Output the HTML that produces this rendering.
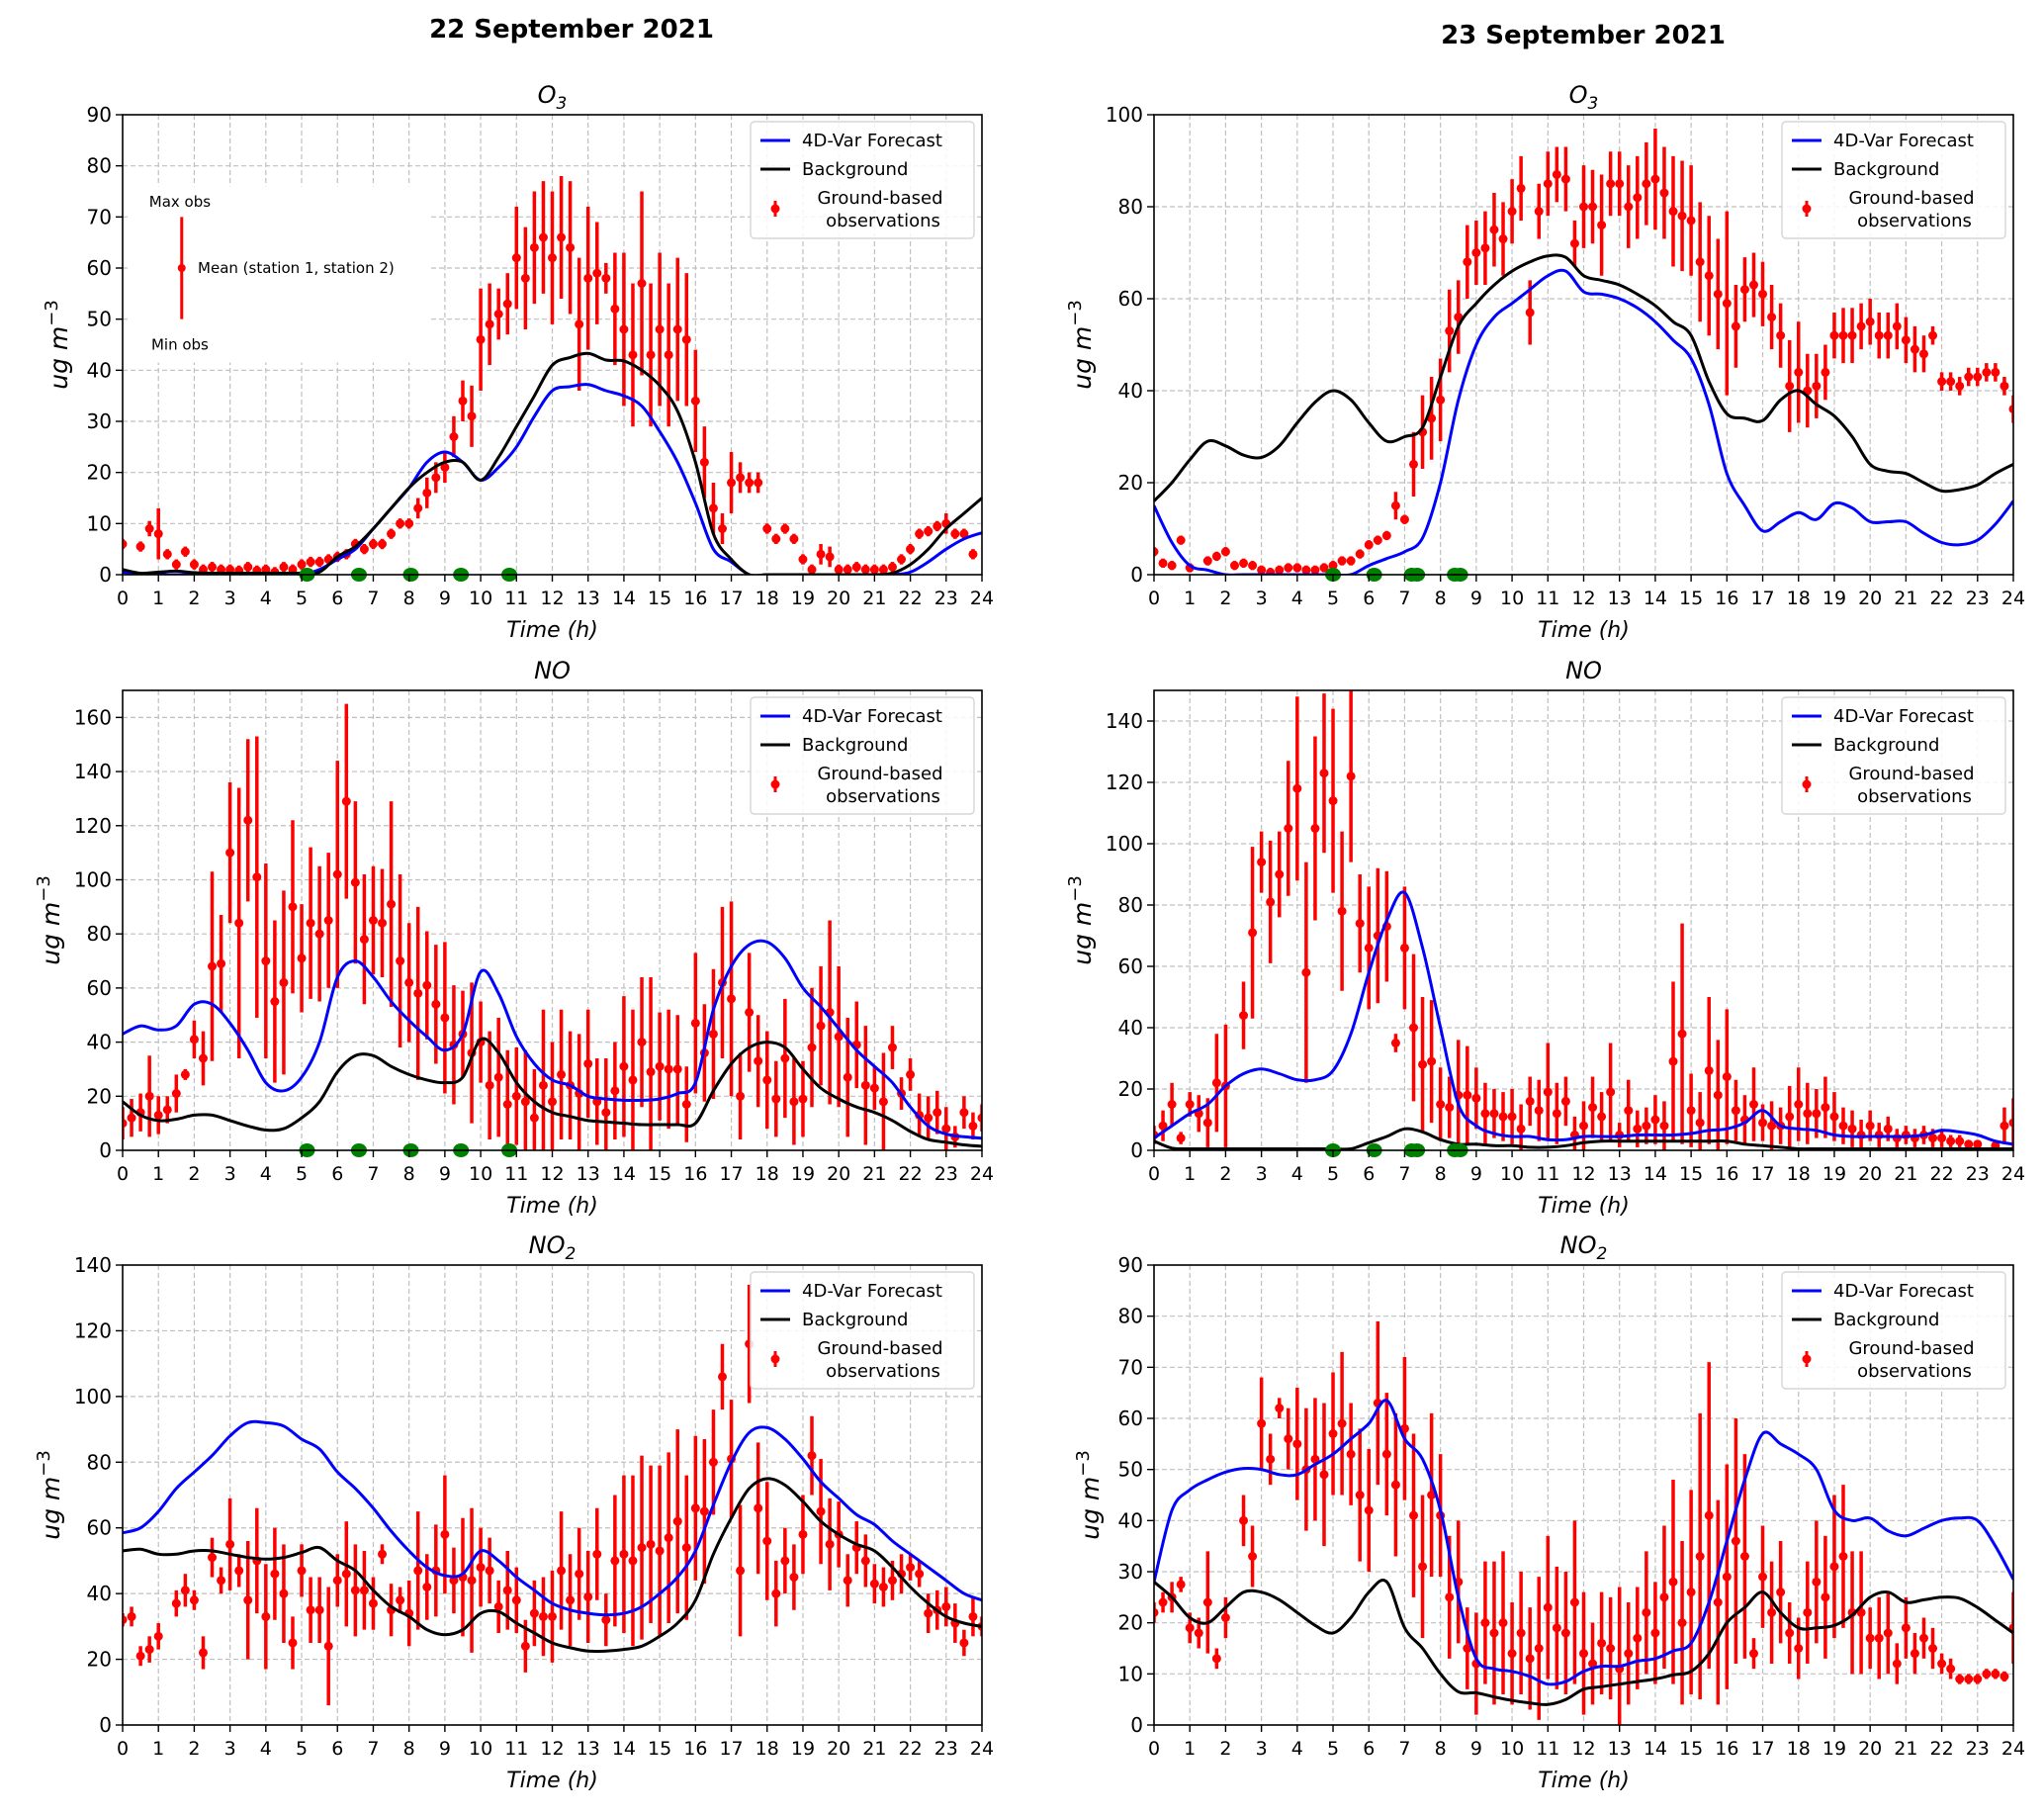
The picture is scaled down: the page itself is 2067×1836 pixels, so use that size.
<!DOCTYPE html>
<html><head><meta charset="utf-8"><title>4D-Var chart</title>
<style>
html,body{margin:0;padding:0;background:#fff;}
svg{display:block;font-family:"DejaVu Sans","Liberation Sans",sans-serif;}
</style></head>
<body>
<svg id="fig" width="2067" height="1836" viewBox="0 0 2067 1836" xmlns="http://www.w3.org/2000/svg">
<rect x="0" y="0" width="2067" height="1836" fill="#fff"/>
<text x="578" y="38" text-anchor="middle" font-size="26" font-weight="bold">22 September 2021</text>
<text x="1601" y="44" text-anchor="middle" font-size="26" font-weight="bold">23 September 2021</text>
</svg>
<script>
// ---- data: lines sampled every 0.5 h (0..24) ; observations every 0.25 h (0..24)
const hoursTicks = [0,1,2,3,4,5,6,7,8,9,10,11,12,13,14,15,16,17,18,19,20,21,22,23,24];
const legendLabels = ["4D-Var Forecast","Background","Ground-based","observations"];

const o3d1Blue = [0.5,0,0,0,0,0,0,0,0,0,0,1,3,5,9,13,17,22,24,22,18.5,21,25,31,36,36.8,37.2,36,35,33,28,22,14,5,2.5,0,0,0,0,0,0,0,0,0,0.5,2.5,5,7,8.2];
const o3d1Black = [1,0.3,0.5,0.7,0.4,0.3,0.3,0.3,0.3,0.3,0.3,0.5,3.5,5.5,9,13,17,20,22,22,18.5,23,29,35,41,42.5,43.3,42,41.8,40,37,32,22,8,3,0,0,0,0,0,0,0,0,0.3,2,5,9,12,15];
const o3d1Obs = [6,null,5.5,9,8,4,2,4.5,2,1,1.5,1,1,0.8,1.5,0.8,1,0.5,1.5,1,2,2.5,2.5,3,3.5,4,6,5,6,6,8,10,10,13,16,19,21,27,34,31,46,49,51,53,62,58,64,66,62,66,64,49,58,59,58,52,48,43,57,43,48,43,48,46,34,22,13,9,18,19,18,18,9,7,9,7,3,1,4,3.5,1,1,1.5,1,1,1,1.5,3,5,8,8.5,9.5,10,8,8,4,null];
const o3d1Err = [1,0,1,1.5,5,1,1,1,1,1,1,1,1,1,1,1,1,1,1,1,1,1,1,1,1,1,1,1,1,1,1,1,1,2,3,3,3,4,4,6,10,8,5,6,10,10,11,11,13,12,13,13,14,10,3,11,15,14,18,14,15,14,14,13,10,7,5,3,6,3,2,2,1,1,1,1,1,1,2,2,1,1,1,1,1,1,1,1,1,1,1,1,2,1,1,1,0];
const o3d1Ymax = 90;
const o3d1Yticks = [0,10,20,30,40,50,60,70,80,90];

const o3d2Blue = [15,7,2,1,0,0,0,0,0,0,0,0,2,3.5,5,8,20,38,50,56,59,62,65,66,61.5,61,60,58,55,51,47,37,22,15,9.5,11.5,13.5,12,15.5,14.5,11.5,11.5,11.5,9,7,6.5,7.5,11,16];
const o3d2Black = [16,20,25,29,28,26,25.5,28,33,37.5,40,38,33,29,30,32,43,54,59,63,66,68,69.3,69,65,64,63,61,58.5,55,52,42,35,34,33.5,38,40,37,34.5,30,24,22.5,22,20,18.2,18.5,19.5,22,24];
const o3d2Obs = [5,2.5,2,7.5,1.5,null,3,4,5,2,2.5,2,1,0.5,1,1.5,1.5,1,1,1.5,2,3,3,4.5,6.5,7.5,8.5,15,12,24,31,34,38,53,56,68,70,71,75,73,79,84,57,79,85,87,86,72,80,80,76,85,85,80,82,85,86,83,79,78,77,68,65,61,59,54,62,63,61,56,52,41,44,40,41,44,52,52,52,54,55,52,52,54,51,49,48,52,42,42,41,43,43,44,44,41,36];
const o3d2Err = [1,1,1,1,1,0,1,1,1,1,1,1,1,1,1,1,1,1,1,1,1,1,1,1,1,1,1,3,1,7,8,9,9,9,8,8,7,8,8,8,7,7,7,6,7,6,7,5,9,8,11,7,7,9,9,9,11,10,12,12,12,13,13,12,20,9,7,7,7,7,7,10,11,8,7,6,5,6,6,5,5,5,5,5,5,5,4,2,2,2,2,2,2,2,2,2,3];
const o3d2Ymax = 100;
const o3d2Yticks = [0,20,40,60,80,100];

const nod1Blue = [43,46,44.5,46,54,54,47,37,25,22,27,40,64,70,64,55,48,42,37,43,66,58,42,32,26,24,20,19,18.5,18.5,19,21,25,52,68,76,77,71,60,53,45,37,31,25,16,9,6,5,4.5];
const nod1Black = [18,13,11,11.5,13,13,11,9,7.5,8,12,18,29,35,35,31,28,26,25,27,41,36,25,18,14,12.5,11,10.5,10,9.5,9.5,9.5,10,22,32,38,40,38,30,23,19,16,14,11,7,4,3,2,1.5];
const nod1Obs = [10,12,14,20,13,15,21,28,41,34,68,69,110,84,122,101,70,55,62,90,71,84,80,85,102,129,99,78,85,84,91,70,62,58,61,54,49,39,43,36,40,24,27,17,20,18,12,24,18,28,24,21,32,18,14,22,31,26,40,29,31,30,30,17,47,36,43,62,56,20,51,33,26,19,34,18,19,38,46,51,42,27,39,24,23,18,38,21,28,13,12,14,8,5,14,9,12,10];
const nod1Err = [6,7,7,15,7,5,7,2,7,10,35,18,26,50,30,52,36,30,34,32,20,28,25,25,42,36,30,24,20,20,38,32,22,32,20,22,28,22,16,26,15,20,22,20,18,19,18,28,22,24,20,22,20,16,20,18,26,26,24,35,20,22,20,14,26,18,24,28,36,16,22,17,18,14,22,16,14,22,22,34,26,22,16,22,8,18,8,6,6,8,8,8,8,4,6,5,5,6];
const nod1Ymax = 170;
const nod1Yticks = [0,20,40,60,80,100,120,140,160];

const nod2Blue = [4,8,12,15,21,25,26.5,25,23,23,26,38,58,75,84,66,40,15,8,5.5,4.5,4.5,3.5,3.5,4.5,4.5,4.5,5,5,5,5.5,6.5,7,9,13,8,7,6.5,5,4.5,4.5,4.5,4.5,5,6.5,6,5,3,2];
const nod2Black = [3,0.7,0.5,0.5,0.5,0.5,0.5,0.5,0.5,0.5,0.5,0.5,2.5,4.5,7,6,3.5,2,2,1.5,1.5,1,1,1.5,2.5,3,3,3,3,3,3,3,3,2,1.5,1,0.5,0.5,0.5,0.5,0.5,0.5,0.5,0.5,0.5,0.5,0.5,0.5,0.5];
const nod2Obs = [5,8,15,4,15,12,9,22,21,null,44,71,94,81,90,105,118,58,105,123,114,78,122,74,66,70,73,35,66,40,28,29,15,14,18,18,17,12,12,11,11,7,16,13,19,12,16,5,8,14,11,19,5,13,7,8,10,8,29,38,13,9,26,18,24,13,10,15,9,8,8,11,15,12,12,14,11,8,7,5,8,5,7,4,5,4,5,4,4,3,3,2,2,null,1.5,8,9];
const nod2Err = [3,5,7,2,4,6,8,16,20,0,11,28,10,20,14,22,30,36,30,26,30,26,28,16,20,22,18,3,20,24,22,20,12,10,18,16,10,10,8,8,9,8,8,10,16,10,8,6,8,10,8,16,4,10,6,6,8,8,26,36,12,10,24,18,22,10,8,12,6,8,6,10,12,10,8,10,8,6,6,5,5,4,4,3,3,3,3,3,3,2,2,1,1,0,1,6,8];
const nod2Ymax = 150;
const nod2Yticks = [0,20,40,60,80,100,120,140];

const no2d1Blue = [58.5,60,65,72,77,82,88,92,92,91,87,84,77,72,66,59,53,48,45.5,46,53,50,45,41,37,35,34,33.5,34,36,40,45,53,67,80,89,90.5,87,81,74,69,64,61,56,52,48,44,40,38];
const no2d1Black = [53,53.5,52,52,53,53,52,51,50.5,51,52.5,54,50,47,41,36,33,29,27.5,29,34,34.5,31,28,25,23.5,22.5,22.5,23,24,27,31,38,52,63,72,75,73,68,62,58,55,53,48,42,37,33,31,30];
const no2d1Obs = [32,33,21,23,27,null,37,41,38,22,51,44,55,47,38,50,33,46,40,25,47,35,35,24,44,46,41,41,37,52,35,38,34,47,42,47,58,44,45,44,48,47,36,41,38,24,34,33,33,47,38,46,39,52,32,50,52,50,54,55,53,57,62,54,66,65,80,106,81,47,116,66,56,40,50,45,58,82,65,55,58,44,54,50,43,42,44,46,48,46,34,35,36,31,25,33,30];
const no2d1Err = [2,3,3,4,4,0,4,5,3,5,6,4,14,5,18,16,16,14,15,8,8,10,10,18,8,16,14,12,8,3,8,4,10,18,10,14,18,10,18,22,12,10,8,12,10,8,10,12,14,18,14,14,14,14,8,20,24,26,28,24,26,26,28,22,22,22,16,10,18,20,18,20,18,10,10,10,12,12,16,14,10,8,8,8,6,6,6,6,4,4,6,6,6,6,4,6,3];
const no2d1Ymax = 140;
const no2d1Yticks = [0,20,40,60,80,100,120,140];

const no2d2Blue = [28,42,46,48,49.5,50.2,50,49,49,51,53,56,59,63.5,56,52,42,25,13,11,10.5,9.5,8,8.5,10.5,11.5,11.5,12.5,13,14.5,16,24,36,48,57,55,53,50,42,40,40.5,38,37,38.5,40,40.5,40,35,28.5];
const no2d2Black = [28,25,21,20,23,26,26,24.5,22,19.5,18,21,26,28,19,15,10,6.5,6.3,5.5,4.8,4.3,4,5,7,7.5,8,8.5,9,9.8,10.5,14,20,23,26,22,19,19,19.5,21.5,25,26,24,24.5,25,24.8,23,20.5,18];
const no2d2Obs = [22,24,25,27.5,19,18,24,13,21,null,40,33,59,52,62,56,55,50,52,49,57,59,53,45,42,63,53,47,58,41,31,45,41,25,28,15,12,20,18,20,14,18,13,15,23,19,18,24,14,12,16,15,11,14,17,22,18,25,28,20,26,33,41,24,29,36,33,14,29,22,26,18,15,22,28,25,31,33,22,22,17,17,18,12,19,14,17,15,12,11,9,9,9,10,10,9.5,19];
const no2d2Err = [2,2,3,1.5,3,3,10,2,4,0,5,6,9,5,2,6,11,12,12,14,12,14,10,13,12,16,12,14,14,16,14,16,12,12,12,8,10,12,14,14,10,12,10,14,14,12,12,16,12,8,10,10,16,10,10,12,10,14,20,16,20,28,30,20,22,24,20,3,10,10,10,6,6,10,12,12,14,14,12,12,6,8,8,4,6,4,4,4,2,2,1,1,1,1,1,1,7];
const no2d2Ymax = 90;
const no2d2Yticks = [0,10,20,30,40,50,60,70,80,90];

const assimTimesDay1 = [5.15,6.6,8.05,9.45,10.8];
const assimTimesDay2 = [5.0,6.15,7.2,7.35,8.4,8.55];

const NS = "http://www.w3.org/2000/svg";
const svg = document.getElementById("fig");
function mk(tag, attrs, parent) {
  const e = document.createElementNS(NS, tag);
  for (const k in attrs) e.setAttribute(k, attrs[k]);
  (parent || svg).appendChild(e);
  return e;
}

const colsX = [124, 1167];
const rowsY = [116, 698, 1279];
const W = 869, H = 465;

function smoothPath(pts) {
  let d = "M" + pts[0][0].toFixed(1) + "," + pts[0][1].toFixed(1);
  for (let i = 0; i < pts.length - 1; i++) {
    const p0 = pts[Math.max(0, i - 1)], p1 = pts[i], p2 = pts[i + 1], p3 = pts[Math.min(pts.length - 1, i + 2)];
    const c1x = p1[0] + (p2[0] - p0[0]) / 6, c1y = p1[1] + (p2[1] - p0[1]) / 6;
    const c2x = p2[0] - (p3[0] - p1[0]) / 6, c2y = p2[1] - (p3[1] - p1[1]) / 6;
    d += "C" + c1x.toFixed(1) + "," + c1y.toFixed(1) + " " + c2x.toFixed(1) + "," + c2y.toFixed(1) + " " + p2[0].toFixed(1) + "," + p2[1].toFixed(1);
  }
  return d;
}

function drawPanel(name, col, row, species, sub, blue, black, obs, err, ymax, yticks, assim, annot) {
  const x0 = colsX[col], y0 = rowsY[row];
  const xs = t => x0 + t / 24 * W;
  const ys = v => y0 + H - v / ymax * H;
  const g = mk("g", {});
  
  
  const cid = "clip-" + name;
  const cp = mk("clipPath", {id: cid}, g);
  mk("rect", {x: x0, y: y0, width: W, height: H}, cp);

  const grid = mk("g", {stroke: "#b0b0b0", "stroke-width": 1.2, "stroke-dasharray": "5,3", opacity: 0.8}, g);
  
  
  hoursTicks.forEach(t => { if (t > 0 && t < 24) mk("line", {x1: xs(t), x2: xs(t), y1: y0, y2: y0 + H}, grid); });
  yticks.forEach(v => { if (v > 0 && v < ymax) mk("line", {x1: x0, x2: x0 + W, y1: ys(v), y2: ys(v)}, grid); });

  const plot = mk("g", {"clip-path": "url(#" + cid + ")"}, g);

  if (annot) {
    const wb = mk("rect", {x: xs(0.15), y: ys(76), width: xs(8.6) - xs(0.15), height: ys(41.5) - ys(76), fill: "#fff"}, plot);
    
    
    const ab = mk("line", {x1: xs(1.65), x2: xs(1.65), y1: ys(70), y2: ys(50), stroke: "#f00", "stroke-width": 3}, plot);
    
    
    const ad = mk("circle", {cx: xs(1.65), cy: ys(60), r: 4, fill: "#f00"}, plot);
    
    
    const t1 = mk("text", {x: xs(1.6), y: ys(73) + 5, "font-size": 15, "text-anchor": "middle"}, plot);
    t1.textContent = "Max obs";
    
    
    const t2 = mk("text", {x: xs(2.1), y: ys(60) + 5, "font-size": 15}, plot);
    t2.textContent = "Mean (station 1, station 2)";
    
    
    const t3 = mk("text", {x: xs(1.6), y: ys(45) + 5, "font-size": 15, "text-anchor": "middle"}, plot);
    t3.textContent = "Min obs";
    
    
  }

  const og = mk("g", {fill: "#f00", stroke: "#f00"}, plot);
  
  
  obs.forEach((v, i) => {
    if (v === null) return;
    const t = i * 0.25;
    const e = err[i] || 0;
    if (e > 0) {
      const l = mk("line", {x1: xs(t), x2: xs(t), y1: ys(v + e), y2: ys(Math.max(0, v - e)), "stroke-width": 3.5}, og);
      
      
    }
    const c = mk("circle", {cx: xs(t), cy: ys(v), r: 4.5, stroke: "none"}, og);
    
    
  });

  function line(arr, color, nm) {
    const pts = arr.map((v, i) => [xs(i * 0.5), ys(v)]);
    const p = mk("path", {d: smoothPath(pts), fill: "none", stroke: color, "stroke-width": 3, "stroke-linejoin": "round"}, plot);
    
    
  }
  line(blue, "#0000ff", name + "-forecast-line");
  line(black, "#000", name + "-background-line");

  assim.forEach(t => {
    const c = mk("ellipse", {cx: xs(t), cy: ys(0), rx: 8, ry: 7, fill: "#008000"}, g);
    
    
  });

  const fr = mk("rect", {x: x0, y: y0, width: W, height: H, fill: "none", stroke: "#000", "stroke-width": 1.6}, g);
  
  

  hoursTicks.forEach(t => {
    mk("line", {x1: xs(t), x2: xs(t), y1: y0 + H, y2: y0 + H + 7, stroke: "#000", "stroke-width": 1.4}, g);
    const tx = mk("text", {x: xs(t), y: y0 + H + 30, "font-size": 19, "text-anchor": "middle"}, g);
    tx.textContent = t;
    
    
  });
  yticks.forEach(v => {
    mk("line", {x1: x0 - 7, x2: x0, y1: ys(v), y2: ys(v), stroke: "#000", "stroke-width": 1.4}, g);
    const tx = mk("text", {x: x0 - 11, y: ys(v) + 7, "font-size": 20, "text-anchor": "end"}, g);
    tx.textContent = v;
    
    
  });

  const xl = mk("text", {x: x0 + W / 2, y: y0 + H + 63, "font-size": 22, "font-style": "italic", "text-anchor": "middle"}, g);
  xl.textContent = "Time (h)";
  
  
  const ylx = x0 - (yticks[yticks.length - 1] >= 100 ? 64 : 56), yly = y0 + H / 2;
  const yl = mk("text", {x: ylx, y: yly, "font-size": 25, "font-style": "italic", "text-anchor": "middle", transform: "rotate(-90 " + ylx + " " + yly + ")"}, g);
  
  
  yl.innerHTML = 'ug m<tspan dy="-10" font-size="18" font-style="normal">−3</tspan>';
  const tt = mk("text", {x: x0 + W / 2, y: y0 - 12, "font-size": 24, "font-style": "italic", "text-anchor": "middle"}, g);
  
  
  tt.innerHTML = species + (sub ? '<tspan dy="6" font-size="17">' + sub + '</tspan>' : '');

  const lx = x0 + W - 234, ly = y0 + 7;
  const lg = mk("g", {}, g);
  
  
  mk("rect", {x: lx, y: ly, width: 226, height: 118, rx: 4, fill: "#fff", "fill-opacity": 0.85, stroke: "#d6d6d6", "stroke-width": 1.4}, lg);
  mk("line", {x1: lx + 10, x2: lx + 40, y1: ly + 19, y2: ly + 19, stroke: "#0000ff", "stroke-width": 3}, lg);
  mk("line", {x1: lx + 10, x2: lx + 40, y1: ly + 48, y2: ly + 48, stroke: "#000", "stroke-width": 3}, lg);
  mk("line", {x1: lx + 25, x2: lx + 25, y1: ly + 80, y2: ly + 96, stroke: "#f00", "stroke-width": 3}, lg);
  mk("circle", {cx: lx + 25, cy: ly + 88, r: 4.5, fill: "#f00"}, lg);
  const pos = [[lx + 52, ly + 25, "start"], [lx + 52, ly + 54, "start"], [lx + 131, ly + 83, "middle"], [lx + 134, ly + 106, "middle"]];
  legendLabels.forEach((s, i) => {
    const t = mk("text", {x: pos[i][0], y: pos[i][1], "font-size": 18, "text-anchor": pos[i][2]}, lg);
    t.textContent = s;
    
    
  });
}

drawPanel("o3-day1", 0, 0, "O", "3", o3d1Blue, o3d1Black, o3d1Obs, o3d1Err, o3d1Ymax, o3d1Yticks, assimTimesDay1, true);
drawPanel("o3-day2", 1, 0, "O", "3", o3d2Blue, o3d2Black, o3d2Obs, o3d2Err, o3d2Ymax, o3d2Yticks, assimTimesDay2, false);
drawPanel("no-day1", 0, 1, "NO", "", nod1Blue, nod1Black, nod1Obs, nod1Err, nod1Ymax, nod1Yticks, assimTimesDay1, false);
drawPanel("no-day2", 1, 1, "NO", "", nod2Blue, nod2Black, nod2Obs, nod2Err, nod2Ymax, nod2Yticks, assimTimesDay2, false);
drawPanel("no2-day1", 0, 2, "NO", "2", no2d1Blue, no2d1Black, no2d1Obs, no2d1Err, no2d1Ymax, no2d1Yticks, [], false);
drawPanel("no2-day2", 1, 2, "NO", "2", no2d2Blue, no2d2Black, no2d2Obs, no2d2Err, no2d2Ymax, no2d2Yticks, [], false);
</script>
</body></html>
